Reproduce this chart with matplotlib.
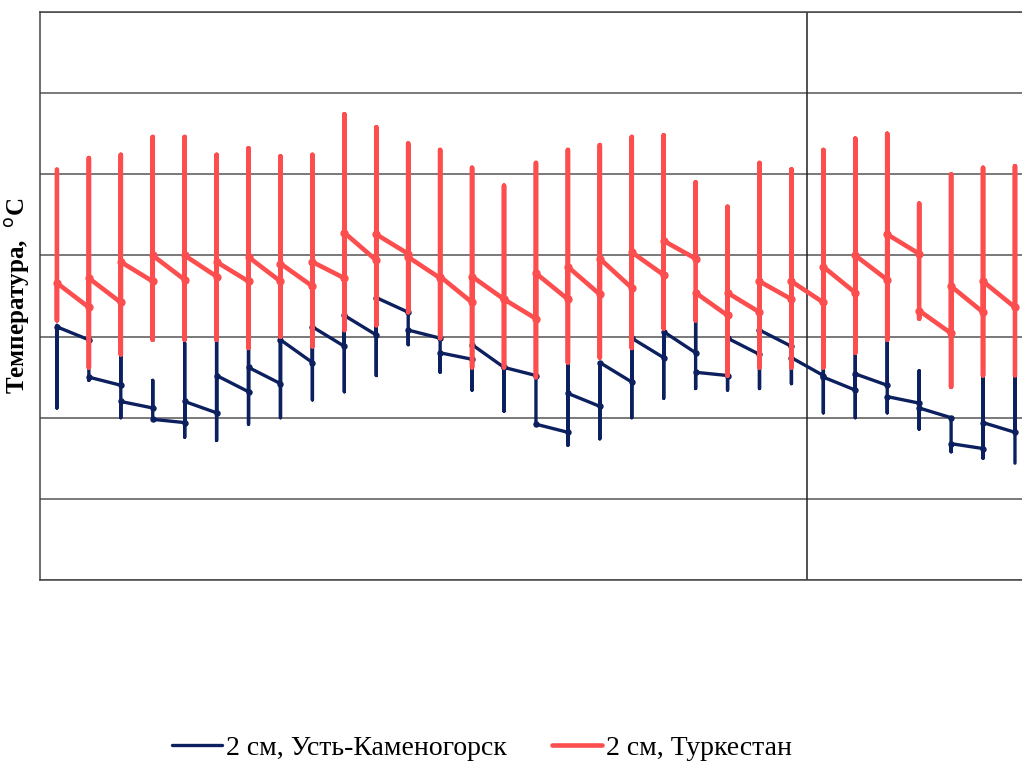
import matplotlib.pyplot as plt
import numpy as np

# daily values for 31 days, °C: max, min, value at day start, value carried to next day
days = np.arange(31)

red_max = [25.3, 26.0, 26.2, 27.3, 27.3, 26.2, 26.6, 26.1, 26.2, 28.7, 27.9, 26.9, 26.5, 25.4, 24.3, 25.7,
           26.5, 26.8, 27.3, 27.4, 24.5, 23.0, 25.7, 25.3, 26.5, 27.2, 27.5, 23.2, 25.0, 25.4, 25.5]
red_min = [16.0, 13.1, 13.9, 14.8, 14.8, 14.8, 14.3, 15.0, 14.4, 15.4, 15.7, 16.5, 14.9, 13.1, 13.1, 12.5,
           13.4, 13.7, 14.3, 15.5, 16.0, 12.6, 13.1, 13.1, 13.1, 14.0, 14.8, 16.1, 11.9, 12.6, 12.6]
red_start = [18.3, 18.6, 19.6, 20.0, 20.0, 19.6, 19.9, 19.5, 19.6, 21.4, 21.3, 19.9, 18.7, 18.7, 17.3, 18.9,
             19.3, 19.8, 20.2, 20.9, 17.7, 17.7, 18.4, 18.4, 19.3, 20.0, 21.3, 16.6, 18.1, 18.4]
red_end = [16.8, 17.1, 18.4, 18.5, 18.7, 18.4, 18.4, 18.1, 18.6, 19.7, 20.1, 18.6, 17.1, 17.3, 16.1, 17.3,
           17.6, 18.0, 18.8, 19.8, 16.3, 16.5, 17.3, 17.1, 17.7, 18.5, 20.1, 15.2, 16.5, 16.8]

blue_max = [15.7, 14.8, 13.9, 12.3, 14.6, 14.8, 14.3, 15.0, 15.6, 16.3, 17.4, 16.5, 14.9, 14.5, 13.1, 12.5,
            13.4, 13.4, 14.9, 15.5, 16.0, 14.9, 15.4, 13.7, 13.1, 14.0, 14.8, 12.9, 10.0, 12.6, 12.6]
blue_min = [10.6, 12.3, 10.0, 9.9, 8.8, 8.6, 9.6, 10.0, 11.1, 11.6, 12.6, 14.5, 12.8, 11.7, 10.4, 9.6,
            8.3, 8.7, 10.0, 11.2, 11.8, 11.7, 11.8, 12.1, 10.3, 10.0, 10.3, 9.3, 7.9, 7.5, 7.2]
blue_start = [15.6, 12.5, 11.0, 9.9, 11.0, 12.6, 13.1, 14.8, 15.6, 16.3, 17.4, 15.4, 14.0, 14.5, 13.1, 9.6,
              11.5, 13.4, 14.9, 15.3, 12.8, 14.9, 15.4, 13.7, 12.5, 12.7, 11.3, 10.6, 8.4, 9.7]
blue_end = [14.8, 12.0, 10.6, 9.7, 10.3, 11.6, 12.1, 13.4, 14.4, 15.1, 16.5, 14.9, 13.6, 13.1, 12.6, 9.1,
            10.7, 12.2, 13.7, 14.0, 12.6, 13.9, 14.4, 12.6, 11.7, 12.0, 10.9, 10.0, 8.1, 9.1]


def build_path(hi, lo, start, end):
    xs, ys = [], []
    for i in days:
        if i > 0:
            xs.append(i)
            ys.append(end[i - 1])
        xs += [i, i]
        ys += [hi[i], lo[i]]
        if i < len(start):
            xs.append(i)
            ys.append(start[i])
    return xs, ys


fig = plt.figure(figsize=(10.22, 7.62), dpi=100)
ax = fig.add_axes([40 / 1022, 182 / 762, 982 / 1022, 568 / 762])

series = [
    ("2 см, Усть-Каменогорск", "#0c1f5e", 2.4, blue_max, blue_min, blue_start, blue_end),
    ("2 см, Туркестан", "#fc4e4e", 3.3, red_max, red_min, red_start, red_end),
]
for label, color, lw, hi, lo, st, en in series:
    xs, ys = build_path(hi, lo, st, en)
    ax.plot(xs, ys, color=color, lw=lw, solid_joinstyle="round", solid_capstyle="round",
            label=label, zorder=3)
    n = len(st)
    ax.plot(days[:n], st, "o", color=color, ms=lw * 1.5, zorder=3)
    ax.plot(days[1:n + 1], en, "o", color=color, ms=lw * 1.5, zorder=3)

ax.set_xlim(-0.53, 30.22)
ax.set_ylim(0, 35)
ax.set_yticks(np.arange(0, 36, 5))
ax.set_yticklabels([])
ax.set_xticks([])
ax.tick_params(axis="y", length=0)
ax.grid(axis="y", color="#555555", lw=1.1)
ax.axvline(23.5, color="#222222", lw=1.1)
for s in ["left", "top", "bottom"]:
    ax.spines[s].set_color("#444444")
    ax.spines[s].set_linewidth(1.1)
ax.spines["right"].set_visible(False)

ax.set_ylabel("Температура,  $^{\\rm o}$С", family="Liberation Serif", fontweight="bold",
              fontsize=18)
ax.yaxis.set_label_coords(-0.008, 0.5)

leg = fig.legend(loc="center", bbox_to_anchor=(482 / 1022, 1 - 748 / 762), ncol=2, frameon=False,
                 prop={"family": "Liberation Serif", "size": 20}, handlelength=1.8,
                 handletextpad=0.15, columnspacing=1.6)

fig.savefig("out.png", dpi=100)
